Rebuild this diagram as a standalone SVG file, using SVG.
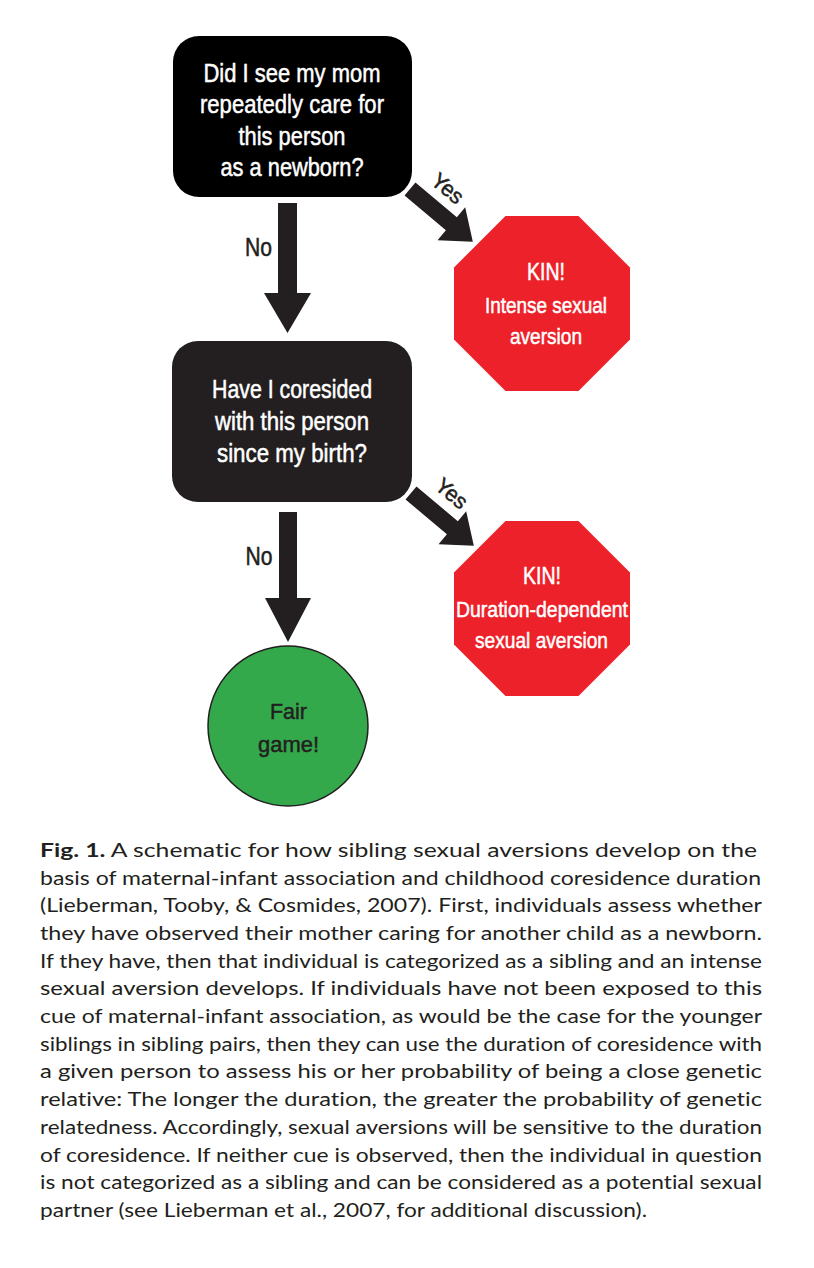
<svg xmlns="http://www.w3.org/2000/svg" width="814" height="1268" viewBox="0 0 814 1268">
<style>
.fc{font-family:"Liberation Sans Narrow","Liberation Sans",Arial,sans-serif;text-anchor:middle;stroke-width:0.5px;}
.w{fill:#ffffff;stroke:#ffffff;}
.d{fill:#231f20;stroke:#231f20;}
.q{font-size:26px;}
.kin{font-size:24px;}
.sub{font-size:22px;}
.lbl{font-size:25px;}
.cap{font-family:Lato,"Open Sans","Liberation Sans",sans-serif;font-size:19.5px;fill:#231f20;font-variant-ligatures:none;}
.arrow{fill:#231f20;}
.stop{fill:#ec2129;}
</style>
<defs>
<polygon id="diag" points="0,-8.5 54,-8.5 54,-21.5 82,0 54,21.5 54,8.5 0,8.5"/>
<polygon id="oct" points="-36.5,-87.5 36.5,-87.5 88,-36 88,36 36.5,87.5 -36.5,87.5 -88,36 -88,-36"/>
</defs>
<rect width="814" height="1268" fill="#ffffff"/>

<g id="connectors">
<polygon class="arrow" points="278,203 297,203 297,293 311,293 287.5,333 264,293 278,293"/>
<polygon class="arrow" points="279,512 297,512 297,598 311,598 288,642 265,598 279,598"/>
<use href="#diag" class="arrow" transform="translate(410,189) rotate(40)"/>
<use href="#diag" class="arrow" transform="translate(411,493) rotate(40)"/>
<text class="fc d lbl" x="258.5" y="256" textLength="27" lengthAdjust="spacingAndGlyphs">No</text>
<text class="fc d lbl" x="259" y="565" textLength="27" lengthAdjust="spacingAndGlyphs">No</text>
<text class="fc d sub" transform="translate(448,188) rotate(40)" x="0" y="8" textLength="35" lengthAdjust="spacingAndGlyphs">Yes</text>
<text class="fc d sub" transform="translate(452,493) rotate(40)" x="0" y="8" textLength="35" lengthAdjust="spacingAndGlyphs">Yes</text>
</g>

<g id="q1">
<rect x="173" y="36" width="239" height="161" rx="26" ry="26" fill="#000000"/>
<text class="fc w q" x="292" y="82" textLength="177" lengthAdjust="spacingAndGlyphs">Did I see my mom</text>
<text class="fc w q" x="292" y="113" textLength="184" lengthAdjust="spacingAndGlyphs">repeatedly care for</text>
<text class="fc w q" x="292" y="145" textLength="107" lengthAdjust="spacingAndGlyphs">this person</text>
<text class="fc w q" x="292" y="176" textLength="143" lengthAdjust="spacingAndGlyphs">as a newborn?</text>
</g>

<g id="kin1">
<use href="#oct" class="stop" transform="translate(542,303.5)"/>
<text class="fc w kin" x="546" y="280" textLength="38" lengthAdjust="spacingAndGlyphs">KIN!</text>
<text class="fc w sub" x="546" y="313" textLength="122" lengthAdjust="spacingAndGlyphs">Intense sexual</text>
<text class="fc w sub" x="546" y="344" textLength="72" lengthAdjust="spacingAndGlyphs">aversion</text>
</g>

<g id="q2">
<rect x="172" y="341" width="240" height="161" rx="26" ry="26" fill="#231f20"/>
<text class="fc w q" x="292" y="398" textLength="160" lengthAdjust="spacingAndGlyphs">Have I coresided</text>
<text class="fc w q" x="292" y="430" textLength="154" lengthAdjust="spacingAndGlyphs">with this person</text>
<text class="fc w q" x="292" y="462" textLength="150" lengthAdjust="spacingAndGlyphs">since my birth?</text>
</g>

<g id="kin2">
<use href="#oct" class="stop" transform="translate(542,608.5)"/>
<text class="fc w kin" x="542" y="584" textLength="38" lengthAdjust="spacingAndGlyphs">KIN!</text>
<text class="fc w sub" x="542" y="617" textLength="172" lengthAdjust="spacingAndGlyphs">Duration-dependent</text>
<text class="fc w sub" x="541.5" y="648" textLength="133" lengthAdjust="spacingAndGlyphs">sexual aversion</text>
</g>

<g id="fair">
<circle cx="288" cy="726" r="80" fill="#33a94b" stroke="#231f20" stroke-width="1.5"/>
<text class="fc d sub" x="288.5" y="719" textLength="37" lengthAdjust="spacingAndGlyphs">Fair</text>
<text class="fc d sub" x="288.5" y="752" textLength="61" lengthAdjust="spacingAndGlyphs">game!</text>
</g>

<g id="caption">
<text class="cap" x="40" y="857" textLength="717" lengthAdjust="spacingAndGlyphs"><tspan font-weight="bold">Fig. 1.</tspan> A schematic for how sibling sexual aversions develop on the</text>
<text class="cap" x="40" y="885" textLength="721" lengthAdjust="spacingAndGlyphs">basis of maternal-infant association and childhood coresidence duration</text>
<text class="cap" x="40" y="912" textLength="722" lengthAdjust="spacingAndGlyphs">(Lieberman, Tooby, &amp; Cosmides, 2007). First, individuals assess whether</text>
<text class="cap" x="40" y="940" textLength="722" lengthAdjust="spacingAndGlyphs">they have observed their mother caring for another child as a newborn.</text>
<text class="cap" x="40" y="968" textLength="722" lengthAdjust="spacingAndGlyphs">If they have, then that individual is categorized as a sibling and an intense</text>
<text class="cap" x="40" y="995" textLength="722" lengthAdjust="spacingAndGlyphs">sexual aversion develops. If individuals have not been exposed to this</text>
<text class="cap" x="40" y="1023" textLength="722" lengthAdjust="spacingAndGlyphs">cue of maternal-infant association, as would be the case for the younger</text>
<text class="cap" x="40" y="1051" textLength="722" lengthAdjust="spacingAndGlyphs">siblings in sibling pairs, then they can use the duration of coresidence with</text>
<text class="cap" x="40" y="1078" textLength="722" lengthAdjust="spacingAndGlyphs">a given person to assess his or her probability of being a close genetic</text>
<text class="cap" x="40" y="1106" textLength="722" lengthAdjust="spacingAndGlyphs">relative: The longer the duration, the greater the probability of genetic</text>
<text class="cap" x="40" y="1134" textLength="722" lengthAdjust="spacingAndGlyphs">relatedness. Accordingly, sexual aversions will be sensitive to the duration</text>
<text class="cap" x="40" y="1162" textLength="722" lengthAdjust="spacingAndGlyphs">of coresidence. If neither cue is observed, then the individual in question</text>
<text class="cap" x="40" y="1189" textLength="722" lengthAdjust="spacingAndGlyphs">is not categorized as a sibling and can be considered as a potential sexual</text>
<text class="cap" x="40" y="1217" textLength="607" lengthAdjust="spacingAndGlyphs">partner (see Lieberman et al., 2007, for additional discussion).</text>
</g>
</svg>
